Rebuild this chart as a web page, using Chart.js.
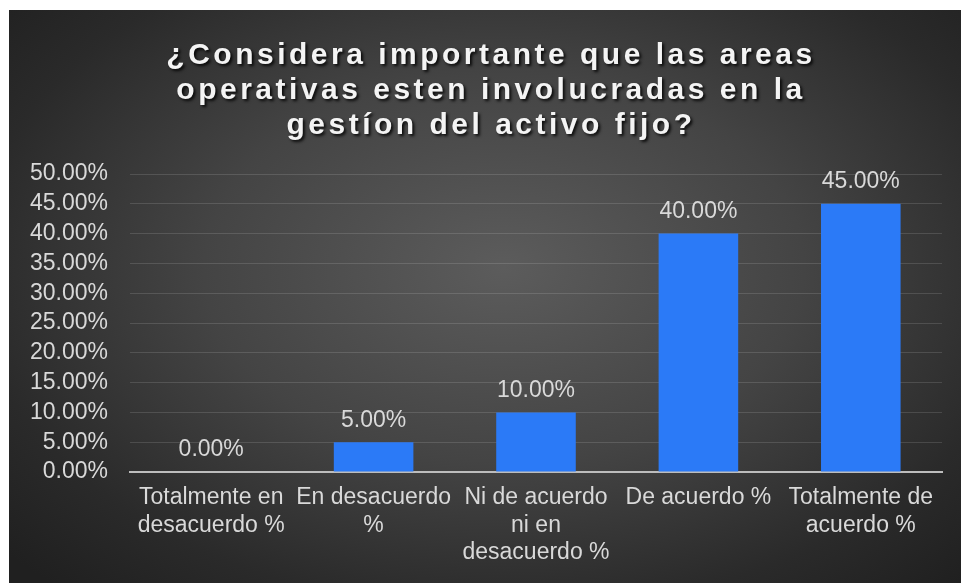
<!DOCTYPE html>
<html>
<head>
<meta charset="utf-8">
<script src="https://cdn.jsdelivr.net/npm/chart.js@4.4.1/dist/chart.umd.min.js"></script>
<style>
    html, body { margin: 0; padding: 0; background: #fff; }
    #wrap {
        position: absolute;
        left: 9px;
        top: 10px;
        width: 952px;
        height: 573px;
        background: radial-gradient(ellipse 70% 75% at 52% 45%, #5c5c5c 0%, #444 45%, #2a2a2a 80%, #202020 100%);
    }
</style>
</head>
<body>
<div id="wrap"><canvas id="surveyChart"></canvas></div>
<script>
// Survey answers (percent of respondents)
const categories = [
    ['Totalmente en', 'desacuerdo %'],
    ['En desacuerdo', '%'],
    ['Ni de acuerdo', 'ni en', 'desacuerdo %'],
    ['De acuerdo %'],
    ['Totalmente de', 'acuerdo %']
];
const values = [0, 5, 10, 40, 45];
const yMax = 50;
const yStep = 5;
const titleLines = [
    '¿Considera importante que las areas',
    'operativas esten involucradas en la',
    'gestíon del activo fijo?'
];

const FONT = '"Liberation Sans", Arial, sans-serif';
const fmt = v => v.toFixed(2) + '%';

// Spaced-out title with a drop shadow
const titlePlugin = {
    id: 'spacedTitle',
    afterDraw(chart) {
        const ctx = chart.ctx;
        ctx.save();
        ctx.font = 'bold 30px ' + FONT;
        ctx.letterSpacing = '3.5px';
        ctx.textAlign = 'center';
        ctx.textBaseline = 'middle';
        ctx.fillStyle = '#f4f4f4';
        ctx.shadowColor = 'rgba(0,0,0,0.85)';
        ctx.shadowOffsetX = 2;
        ctx.shadowOffsetY = 2;
        ctx.shadowBlur = 3;
        titleLines.forEach((line, i) => {
            ctx.fillText(line, 482, 46 + i * 35);
        });
        ctx.restore();
    }
};

// Value text above each bar
const valueLabels = {
    id: 'valueLabels',
    afterDatasetsDraw(chart) {
        const ctx = chart.ctx;
        const meta = chart.getDatasetMeta(0);
        ctx.save();
        ctx.font = '23px ' + FONT;
        ctx.fillStyle = '#d9d9d9';
        ctx.textAlign = 'center';
        ctx.textBaseline = 'middle';
        meta.data.forEach((bar, i) => {
            ctx.fillText(fmt(values[i]), bar.x, bar.y - 22);
        });
        ctx.restore();
    }
};

new Chart(document.getElementById('surveyChart'), {
    type: 'bar',
    data: {
        labels: categories,
        datasets: [{
            data: values,
            backgroundColor: '#2b7af7',
            borderWidth: 0,
            barPercentage: 0.49,
            categoryPercentage: 1
        }]
    },
    options: {
        responsive: true,
        maintainAspectRatio: false,
        animation: false,
        layout: {
            padding: { top: 164, right: 19, bottom: 0, left: 0 }
        },
        plugins: {
            legend: { display: false },
            title: { display: false },
            tooltip: { enabled: false }
        },
        scales: {
            x: {
                grid: { display: false, drawTicks: false },
                border: { display: true, color: '#bdbdbd', width: 2 },
                ticks: {
                    color: '#d9d9d9',
                    font: { family: FONT, size: 23, lineHeight: 1.2 },
                    padding: 12,
                    maxRotation: 0,
                    minRotation: 0,
                    autoSkip: false
                },
                afterFit(scale) { scale.height = 111; }
            },
            y: {
                min: 0,
                max: yMax,
                grid: { color: 'rgba(255,255,255,0.13)', lineWidth: 1, drawTicks: false },
                border: { display: false },
                ticks: {
                    stepSize: yStep,
                    autoSkip: false,
                    color: '#d9d9d9',
                    font: { family: FONT, size: 23, lineHeight: 1 },
                    padding: 22,
                    callback: v => fmt(v)
                },
                afterFit(scale) { scale.width = 121; }
            }
        }
    },
    plugins: [titlePlugin, valueLabels]
});
</script>
</body>
</html>
